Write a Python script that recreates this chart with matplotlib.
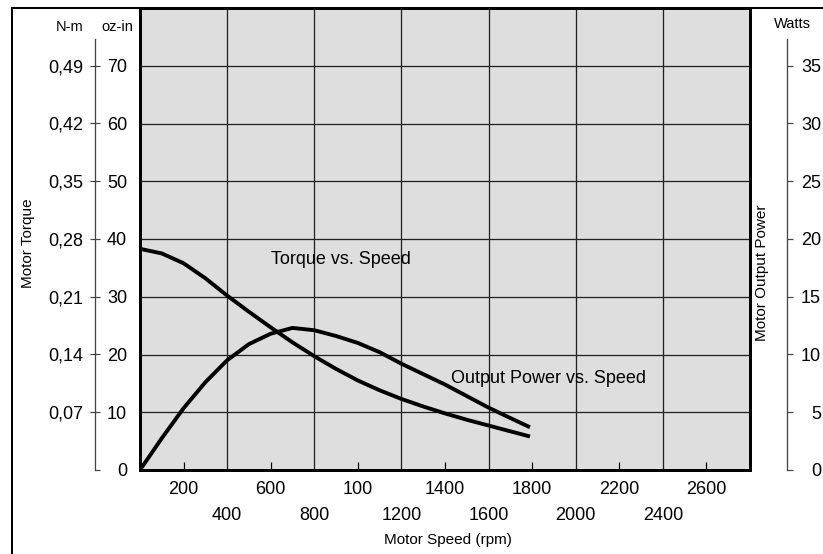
import matplotlib
matplotlib.use("Agg")
import matplotlib.pyplot as plt
from matplotlib.lines import Line2D

plt.rcParams["font.family"] = ["Liberation Sans", "DejaVu Sans"]

# data
speed_rpm = [0, 100, 200, 300, 400, 500, 600, 700, 800, 900,
             1000, 1100, 1200, 1300, 1400, 1500, 1600, 1700, 1790]
torque_ozin = [38.3, 37.5, 35.8, 33.2, 30.2, 27.4, 24.7, 22.1, 19.7, 17.5,
               15.5, 13.8, 12.3, 11.0, 9.8, 8.7, 7.7, 6.7, 5.8]
power_watts = [0.0, 2.75, 5.35, 7.6, 9.5, 10.9, 11.8, 12.3, 12.1, 11.6,
               11.0, 10.2, 9.2, 8.3, 7.4, 6.4, 5.4, 4.5, 3.7]

xticks_upper = [200, 600, 1000, 1400, 1800, 2200, 2600]
xlabels_upper = ["200", "600", "100", "1400", "1800", "2200", "2600"]
xticks_lower = [400, 800, 1200, 1600, 2000, 2400]
xlabels_lower = ["400", "800", "1200", "1600", "2000", "2400"]

ozin_ticks = [10, 20, 30, 40, 50, 60, 70]
nm_ticks = [0.07, 0.14, 0.21, 0.28, 0.35, 0.42, 0.49]
nm_labels = ["0,07", "0,14", "0,21", "0,28", "0,35", "0,42", "0,49"]
watt_ticks = [5, 10, 15, 20, 25, 30, 35]

W, H = 823, 554
PT = 72 / 100  # pixels -> points at dpi 100

fig = plt.figure(figsize=(W / 100, H / 100), dpi=100)
left, right, top, bottom = 140, 750, 8, 470
ax = fig.add_axes([left / W, 1 - bottom / H, (right - left) / W, (bottom - top) / H])
ax.set_facecolor("#dedede")
ax.set_xlim(0, 2800)
ax.set_ylim(0, 80)
for s in ax.spines.values():
    s.set_linewidth(3 * PT)
    s.set_zorder(5)

# x ticks: gridline ticks on the lower row, short inner ticks on the upper row
ax.set_xticks(xticks_lower, xlabels_lower)
ax.set_xticks(xticks_upper, xlabels_upper, minor=True)
ax.tick_params(axis="x", which="major", length=0, pad=27, labelsize=13)
ax.tick_params(axis="x", which="minor", direction="in", length=8 * PT,
               width=1.2 * PT, pad=8, labelsize=13)
ax.set_yticks(ozin_ticks)
ax.tick_params(axis="y", length=0, labelleft=False)
ax.grid(True, which="major", color="#222222", linewidth=1.3 * PT)
ax.set_axisbelow(True)

ax.plot(speed_rpm, torque_ozin, color="black", lw=2.8, solid_capstyle="butt",
        solid_joinstyle="round", zorder=3)

# power on its own Watts scale
ax_w = ax.twinx()
ax_w.set_ylim(0, 40)
ax_w.plot(speed_rpm, power_watts, color="black", lw=2.8, solid_capstyle="butt",
          solid_joinstyle="round", zorder=3)
for name in ["left", "top", "bottom"]:
    ax_w.spines[name].set_visible(False)
ax_w.spines["right"].set_position(("axes", (787 - left) / (right - left)))
ax_w.spines["right"].set_bounds(0, 37.3)
ax_w.spines["right"].set_linewidth(1.3 * PT)
ax_w.spines["right"].set_color("#444444")
ax_w.set_yticks(watt_ticks)
ax_w.set_yticks([0], ["0"], minor=True)
ax_w.tick_params(axis="y", which="both", direction="out", length=6 * PT,
                 width=1.2 * PT, color="#444444", pad=28 * PT, labelsize=13)
for lab in ax_w.get_yticklabels() + ax_w.get_yticklabels(minor=True):
    lab.set_ha("right")

# oz-in scale (spine left of the plot)
xpos = (95 - left) / (right - left)
ax_oz = ax.twinx()
ax_oz.set_ylim(0, 80)
for name in ["left", "top", "bottom"]:
    ax_oz.spines[name].set_visible(False)
ax_oz.spines["right"].set_position(("axes", xpos))
ax_oz.spines["right"].set_bounds(0, 74.7)
ax_oz.spines["right"].set_linewidth(1.3 * PT)
ax_oz.spines["right"].set_color("#444444")
ax_oz.set_yticks(ozin_ticks)
ax_oz.set_yticks([0], ["0"], minor=True)
ax_oz.tick_params(axis="y", which="major", direction="inout", length=10 * PT,
                  width=1.2 * PT, color="#444444", pad=27 * PT, labelsize=13)
ax_oz.tick_params(axis="y", which="minor", direction="out", length=5 * PT,
                  width=1.2 * PT, color="#444444", pad=27 * PT, labelsize=13)
for lab in ax_oz.get_yticklabels() + ax_oz.get_yticklabels(minor=True):
    lab.set_ha("right")

# N-m scale labels, left of the oz-in spine
ax_nm = ax.twinx()
ax_nm.set_ylim(0, 0.56)
for name in ["right", "top", "bottom"]:
    ax_nm.spines[name].set_visible(False)
ax_nm.spines["left"].set_position(("axes", xpos))
ax_nm.spines["left"].set_visible(False)
ax_nm.yaxis.set_ticks_position("left")
ax_nm.set_yticks(nm_ticks, nm_labels)
ax_nm.tick_params(axis="y", length=0, pad=12 * PT, labelsize=13)

ax.text(922, 36.5, "Torque vs. Speed", ha="center", va="center", fontsize=13,
        zorder=6)
ax.text(1873, 15.9, "Output Power vs. Speed", ha="center", va="center",
        fontsize=13, zorder=6)

fig.text(70 / W, 1 - 27 / H, "N-m", ha="center", va="center", fontsize=10.5)
fig.text(117 / W, 1 - 27 / H, "oz-in", ha="center", va="center", fontsize=10.5)
fig.text(792 / W, 1 - 24 / H, "Watts", ha="center", va="center", fontsize=10.5)
fig.text(28 / W, 1 - 243 / H, "Motor Torque", rotation=90, ha="center",
         va="center", fontsize=11)
fig.text(762 / W, 1 - 273 / H, "Motor Output Power", rotation=90, ha="center",
         va="center", fontsize=11)
fig.text(448 / W, 1 - 540 / H, "Motor Speed (rpm)", ha="center", va="center",
         fontsize=11)

# outer frame of the scanned figure
fig.add_artist(Line2D([12 / W, 12 / W], [0, 1 - 8 / H], color="black",
                      lw=2 * PT, transform=fig.transFigure))
fig.add_artist(Line2D([12 / W, 1], [1 - 8 / H, 1 - 8 / H], color="black",
                      lw=2 * PT, transform=fig.transFigure))

fig.savefig("out.png", dpi=100)
